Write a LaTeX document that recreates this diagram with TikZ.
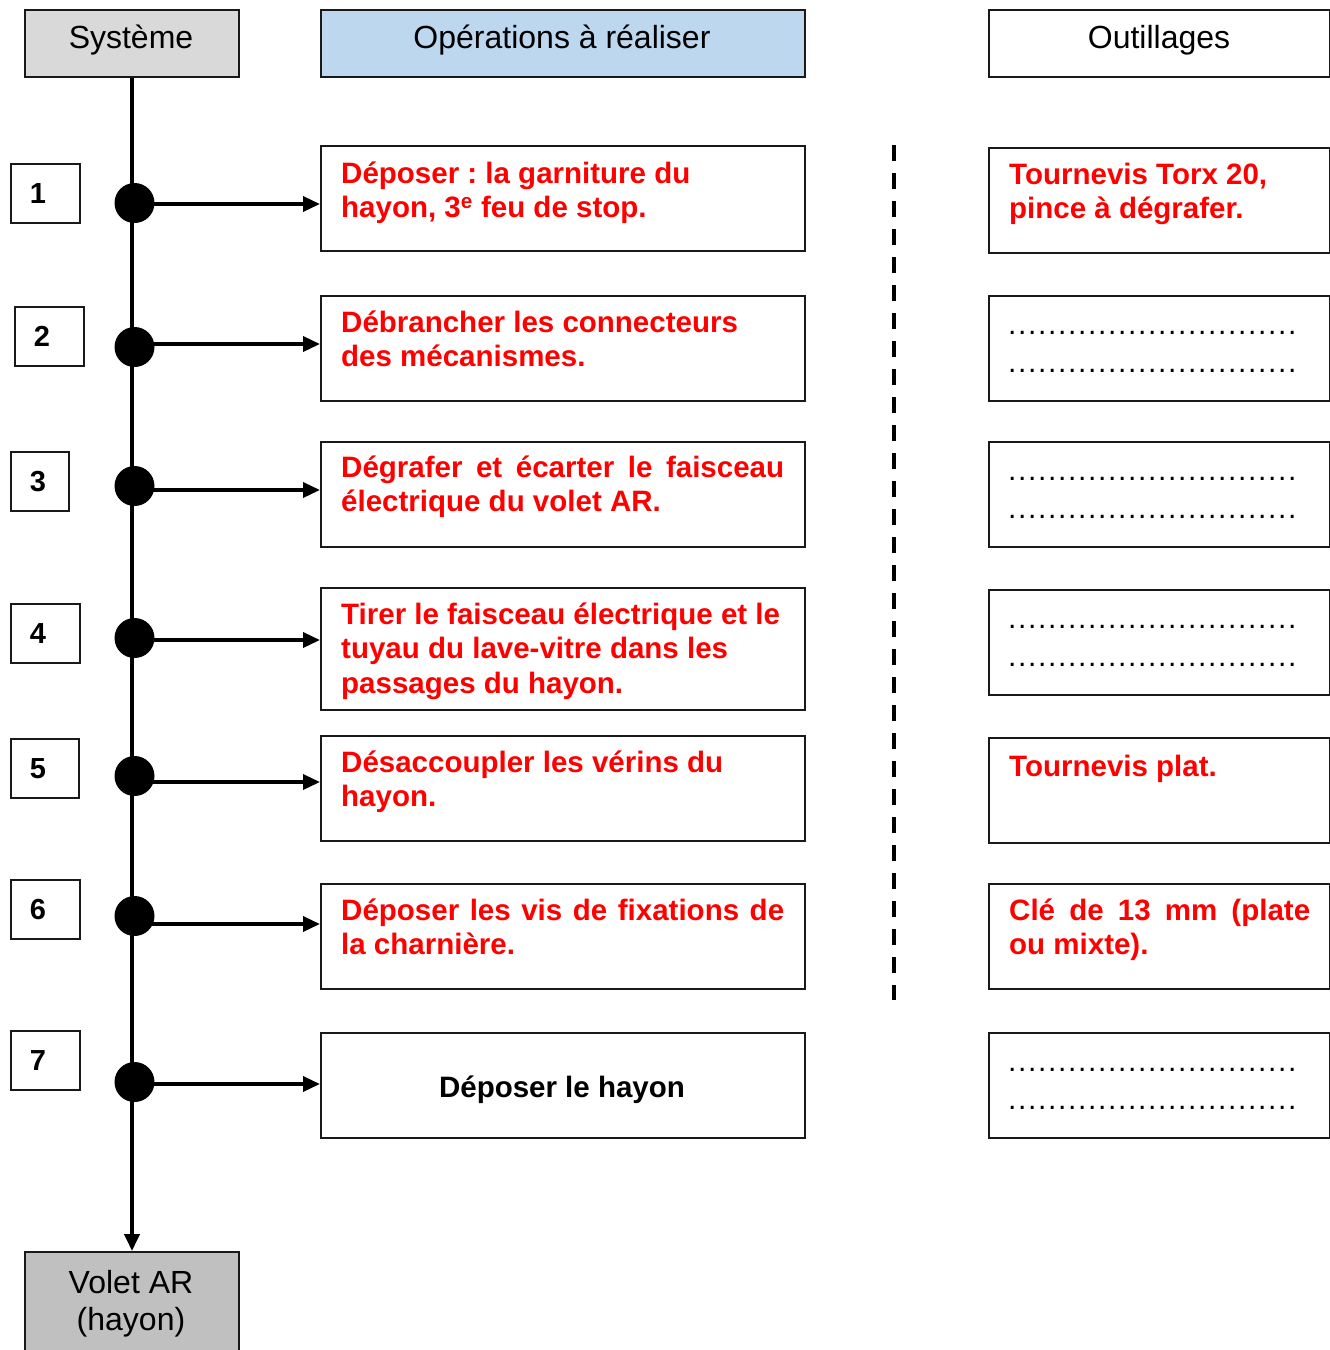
\documentclass[tikz,border=0pt]{standalone}
\usepackage{fontspec}
\setmainfont{Liberation Sans}
\usetikzlibrary{arrows.meta}
\definecolor{hgray}{RGB}{217,217,217}
\definecolor{hblue}{RGB}{189,215,238}
\definecolor{vgray}{RGB}{192,192,192}
\definecolor{opred}{RGB}{255,0,0}
\newcommand\dotsrow{\leavevmode\hbox to 290pt{\xleaders\hbox to 10pt{\hss.\hss}\hfill}}
\frenchspacing
\begin{document}
\begin{tikzpicture}[x=1pt,y=-1pt,
  box/.style={draw=black!90, line width=1.5pt, inner sep=0pt, anchor=north west},
  opbox/.style={box, minimum width=484pt, minimum height=105pt},
  toolbox/.style={box, minimum width=341pt, minimum height=105pt},
  numbox/.style={box, minimum height=59pt, inner xsep=19pt, align=left,
    font=\fontsize{29}{32}\selectfont\bfseries},
  hdtxt/.style={anchor=base, inner sep=0pt, font=\fontsize{32}{37}\selectfont},
  optxt/.style={anchor=base west, inner sep=0pt, text=opred,
    font=\fontsize{29.5}{34.5}\selectfont\bfseries},
  dottxt/.style={anchor=base west, inner sep=0pt,
    font=\fontsize{30}{38}\selectfont},
  knot/.style={circle, fill=black, minimum size=40pt, inner sep=0pt},
  arr/.style={line width=3.5pt, -{Triangle[length=17pt,width=15pt]}},
  spine/.style={line width=4pt, -{Triangle[length=17pt,width=15pt]}}
]
\useasboundingbox (0,0) rectangle (1330,1350);

% headers
\node[box, fill=hgray, minimum width=214pt, minimum height=67pt] (sys) at (24,9) {};
\node[hdtxt] (systxt) at (131,48) {Système};
\node[box, fill=hblue, minimum width=484pt, minimum height=67pt] (ops) at (320,9) {};
\node[hdtxt] (opstxt) at (562,48) {Opérations à réaliser};
\node[box, minimum width=341pt, minimum height=67pt] (tools) at (988,9) {};
\node[hdtxt] (toolstxt) at (1159,48) {Outillages};

% bottom box
\node[box, fill=vgray, minimum width=214pt, minimum height=110pt] (volet) at (24,1251) {};
\node[hdtxt] (volettxt) at (131,1293) {\parbox[t]{210pt}{\centering Volet AR\\(hayon)}};

% spine
\draw[spine] (sys.south -| 132,0) -- (volet.north -| 132,0);

% number boxes
\node[numbox, text width=31pt] (n1) at (10,163) {1};
\node[numbox, text width=31pt] (n2) at (14,306) {2};
\node[numbox, text width=20pt] (n3) at (10,451) {3};
\node[numbox, text width=31pt] (n4) at (10,603) {4};
\node[numbox, text width=30pt] (n5) at (10,738) {5};
\node[numbox, text width=31pt] (n6) at (10,879) {6};
\node[numbox, text width=31pt] (n7) at (10,1030) {7};

% operation boxes
\node[opbox] (op1) at (320,145) {};
\node[opbox] (op2) at (320,295) {};
\node[opbox] (op3) at (320,441) {};
\node[opbox, minimum height=122pt] (op4) at (320,587) {};
\node[opbox] (op5) at (320,735) {};
\node[opbox] (op6) at (320,883) {};
\node[opbox] (op7) at (320,1032) {};

\node[optxt] (o1) at (341,183) {\parbox[t]{443pt}{\raggedright Déposer : la garniture du\\hayon, 3\textsuperscript{e} feu de stop.}};
\node[optxt] (o2) at (341,332) {\parbox[t]{443pt}{\raggedright Débrancher les connecteurs\\des mécanismes.}};
\node[optxt] (o3) at (341,477) {\parbox[t]{443pt}{Dégrafer et écarter le faisceau\linebreak électrique du volet AR.}};
\node[optxt] (o4) at (341,624) {\parbox[t]{443pt}{\raggedright Tirer le faisceau électrique et le\\tuyau du lave-vitre dans les\\passages du hayon.}};
\node[optxt] (o5) at (341,772) {\parbox[t]{443pt}{\raggedright Désaccoupler les vérins du\\hayon.}};
\node[optxt] (o6) at (341,920) {\parbox[t]{443pt}{Déposer les vis de fixations de\linebreak la charnière.}};
\node[optxt, anchor=base, text=black] (o7) at (562,1097) {Déposer le hayon};

% knots and arrows
\foreach \i/\ky/\ay in {1/203/204, 2/347/344, 3/486/490, 4/638/640, 5/776/782, 6/916/924, 7/1082/1084} {
  \node[knot] (k\i) at (134.5,\ky) {};
  \coordinate (a\i) at (134.5,\ay);
  \draw[arr] (a\i) -- (a\i -| op\i.west);
}

% dashed separator
\coordinate (dtop) at (894,145);
\coordinate (dbot) at (894,1000);
\draw[line width=4pt, dash pattern=on 16pt off 12pt] (dtop) -- (dbot);

% tool boxes
\node[toolbox] (t1) at (988,147) {};
\node[toolbox] (t2) at (988,295) {};
\node[toolbox] (t3) at (988,441) {};
\node[toolbox] (t4) at (988,589) {};
\node[toolbox] (t5) at (988,737) {};
\node[toolbox] (t6) at (988,883) {};
\node[toolbox] (t7) at (988,1032) {};

\node[optxt] (tt1) at (1009,184) {\parbox[t]{301pt}{\raggedright Tournevis Torx 20,\\pince à dégrafer.}};
\node[dottxt] (tt2) at (1007,334.5) {\parbox[t]{300pt}{\dotsrow\\\dotsrow}};
\node[dottxt] (tt3) at (1007,480.5) {\parbox[t]{300pt}{\dotsrow\\\dotsrow}};
\node[dottxt] (tt4) at (1007,628.5) {\parbox[t]{300pt}{\dotsrow\\\dotsrow}};
\node[optxt] (tt5) at (1009,776) {Tournevis plat.};
\node[optxt] (tt6) at (1009,920) {\parbox[t]{301pt}{Clé de 13 mm (plate\linebreak ou mixte).}};
\node[dottxt] (tt7) at (1007,1071) {\parbox[t]{300pt}{\dotsrow\\\dotsrow}};
\end{tikzpicture}
\end{document}
